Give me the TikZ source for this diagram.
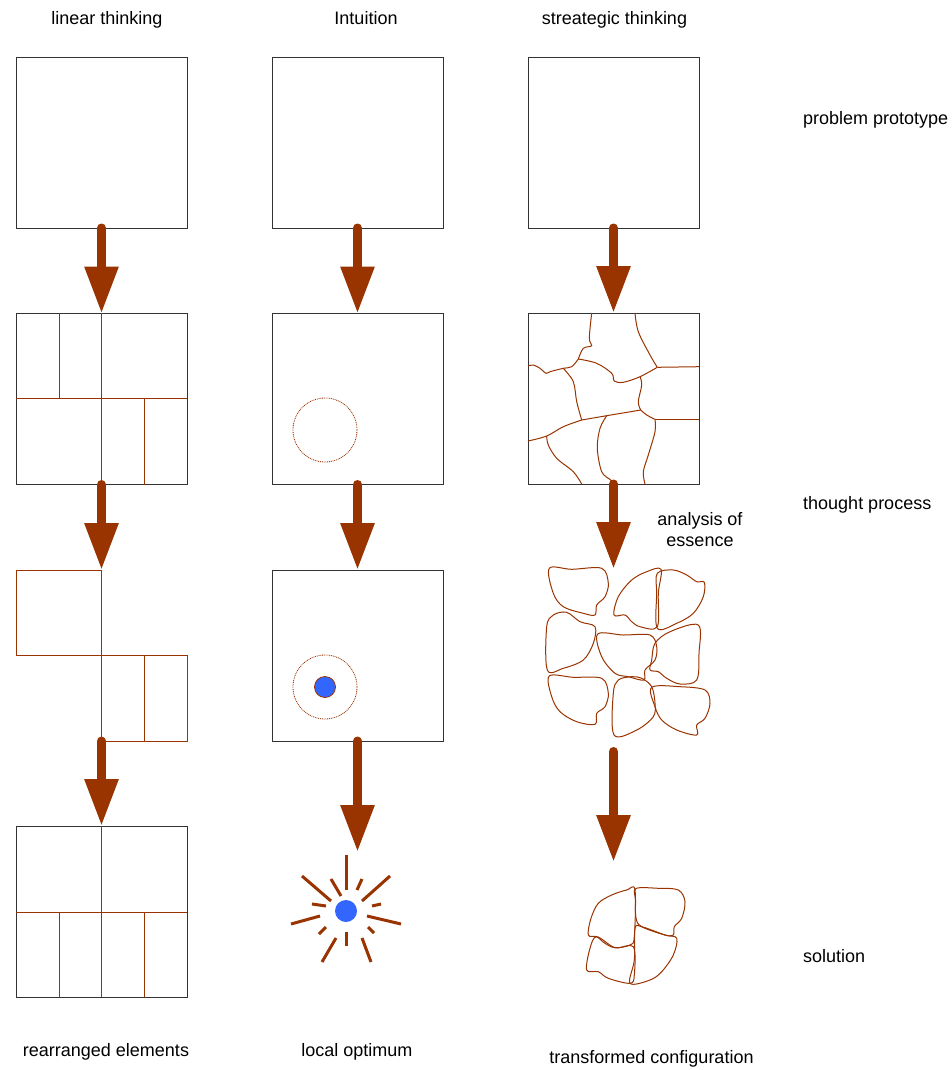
\documentclass[tikz,border=0pt]{standalone}
\usepackage{fontspec}
\setmainfont{Liberation Sans}
\usetikzlibrary{arrows.meta}
\definecolor{rust}{HTML}{993300}
\definecolor{dotblue}{HTML}{3366FF}
\definecolor{frame}{HTML}{333333}
\begin{document}
\begin{tikzpicture}[x=1pt,y=-1pt,
  panel/.style={draw=frame, line width=0.9pt, minimum width=171pt, minimum height=171pt, inner sep=0pt, outer sep=0pt},
  ghost/.style={minimum width=171pt, minimum height=171pt, inner sep=0pt, outer sep=0pt},
  flow/.style={draw=rust, line width=9pt, line cap=round, -{Triangle[length=47pt,width=32pt]}},
  seam/.style={draw=rust, line width=1pt},
  halo/.style={draw=rust, line width=0.8pt, dash pattern=on 0.9pt off 0.9pt},
  spot/.style={circle, fill=dotblue, draw=rust, line width=0.8pt, minimum size=21pt, inner sep=0pt},
  ray/.style={draw=rust, line width=3pt},
  txt/.style={font=\fontsize{18}{21}\selectfont, inner sep=0pt},
  piece/.style={draw=rust, line width=1pt, smooth cycle, tension=0.55},
  crack/.style={draw=rust, line width=1pt, smooth, tension=0.55}]
\useasboundingbox (0,0) rectangle (951,1070);

% column headings and row captions
\node[txt, anchor=base] (h1) at (107,24.5) {linear thinking};
\node[txt, anchor=base] (h2) at (366,24.5) {Intuition};
\node[txt, anchor=base] (h3) at (614.5,24.5) {streategic thinking};
\node[txt, anchor=base west] (r1) at (803,124.5) {problem prototype};
\node[txt, anchor=base west] (r2) at (803,509.5) {thought process};
\node[txt, anchor=base west] (r3) at (803,962.5) {solution};
\node[txt, anchor=base] (ae1) at (700,525.5) {analysis of};
\node[txt, anchor=base] (ae2) at (700,546.5) {essence};
\node[txt, anchor=base] (f1) at (106,1056.5) {rearranged elements};
\node[txt, anchor=base] (f2) at (357,1056.5) {local optimum};
\node[txt, anchor=base] (f3) at (651.5,1063.5) {transformed configuration};

% ---------- linear thinking ----------
\node[panel] (L1) at (101.5,142.5) {};
\node[panel] (L2) at (101.5,399) {};
\draw[seam] (101.5,313) -- (101.5,485);
\draw[seam] (16,398) -- (187,398);
\draw[seam] (59,313) -- (59,398);
\draw[seam] (144,398) -- (144,485);

\node[ghost] (L3) at (101.5,655.5) {};
\draw[seam] (16,570) rectangle (101.5,655);
\draw[seam] (101.5,655) rectangle (187,741);
\draw[seam] (144,655) -- (144,741);

\node[panel] (L4) at (101.5,911.5) {};
\draw[seam] (101.5,826) -- (101.5,997);
\draw[seam] (16,912) -- (187,912);
\draw[seam] (59,912) -- (59,997);
\draw[seam] (144,912) -- (144,997);

% ---------- intuition ----------
\node[panel] (I1) at (357.5,142.5) {};
\node[panel] (I2) at (357.5,399) {};
\draw[halo] (325,430) circle[radius=32pt];
\node[panel] (I3) at (357.5,655.5) {};
\draw[halo] (325,687) circle[radius=32pt];
\node[spot] (best) at (325,687) {};

% burst around the local optimum
\node[spot, draw=none, minimum size=22pt] (opt) at (346,911) {};
\draw[ray] (346,855) -- (346,890);
\draw[ray] (302,876) -- (331,901);
\draw[ray] (331,879) -- (341,896);
\draw[ray] (362,879) -- (357,890);
\draw[ray] (390,876) -- (362,901);
\draw[ray] (312,904) -- (326,906);
\draw[ray] (372,906) -- (381,904);
\draw[ray] (291,924) -- (320,916);
\draw[ray] (367,916) -- (401,924);
\draw[ray] (319,934) -- (326,927);
\draw[ray] (322,962) -- (336,938);
\draw[ray] (346,932) -- (346,946);
\draw[ray] (368,927) -- (374,933);
\draw[ray] (362,938) -- (371,962);

% ---------- strategic thinking ----------
\node[panel] (S1) at (613.5,142.5) {};
\node[panel] (S2) at (613.5,398.5) {};
\draw[crack] plot coordinates {(591.7,313) (589.3,338.3) (591.7,345.7) (583.3,348.3) (578.3,359)};
\draw[crack] plot coordinates {(635,313) (638.3,331.7) (650,355) (657.3,367.3)};
\draw[seam] (657.3,367.3) -- (699,366.7);
\draw[crack] plot coordinates {(578.3,359) (596.7,363.3) (611.7,373.3) (614.3,381) (623.3,382.3) (640,376.7) (657.3,367.3)};
\draw[crack] plot coordinates {(528,366) (533.3,365) (540,368.3) (546,373.3) (550,371.7) (563.3,368.3) (571.7,366.7) (578.3,359)};
\draw[crack] plot coordinates {(563.3,368.3) (573.3,381.7) (576.7,401.7) (581.7,420)};
\draw[crack] plot coordinates {(640,376.7) (641.7,385) (638.3,401.7) (640.7,410)};
\draw[seam] (581.7,420) -- (606.7,415.7) -- (640.7,410);
\draw[crack] plot coordinates {(640.7,410) (646.7,415) (655,419.3)};
\draw[seam] (655,419.3) -- (699,419.3);
\draw[crack] plot coordinates {(655,419.3) (655,431.7) (648.3,455) (643.3,471.7) (645,484)};
\draw[crack] plot coordinates {(606.7,415.7) (600,428.3) (597.3,448.3) (601.7,471.7) (610.7,480) (614,484)};
\draw[crack] plot coordinates {(581.7,420) (563.3,426.7) (546.7,436) (528,441)};
\draw[crack] plot coordinates {(546.7,436) (548.3,445) (556.7,458.3) (573.3,471.7) (581.7,484)};

% separated fragments
\coordinate (heap) at (613.5,569);
\draw[piece] plot coordinates {(549.3,568.3) (571.7,569.3) (601.7,568.3) (608.3,583.3) (605,596.7) (596.7,605) (595,615) (583.3,613.3) (563.3,606.7) (553.3,593.3)};
\draw[piece] plot coordinates {(614,615) (618.3,596.7) (631.7,580) (646.7,571.7) (661,569.3) (658.3,593.3) (657.3,626.7) (640,626.7) (631.7,621.7) (625,615)};
\draw[piece] plot coordinates {(657.3,573.3) (673.3,570) (686.7,575) (696.7,581.7) (704.3,582.3) (703.3,596.7) (693.3,613.3) (676.7,623.3) (657.3,628.3) (656.7,593.3)};
\draw[piece] plot coordinates {(547.3,670) (546.7,626.7) (553.3,615) (566.7,612.3) (580,621.7) (595,626.7) (593.3,643.3) (583.3,660) (563.3,668.3)};
\draw[piece] plot coordinates {(597.7,634) (623.3,635) (650,635) (656.7,646.7) (655,660) (645,670) (644,680) (628.3,676.7) (615,673.3) (601.7,656.7)};
\draw[piece] plot coordinates {(655,643.3) (670,631.7) (698.3,625) (699,653.3) (696.7,680) (680,684) (666.7,678.3) (658.3,671.7) (650,670) (651.7,660)};
\draw[piece] plot coordinates {(549.3,676) (573.3,677.3) (601.7,678.3) (608.3,693.3) (605,706.7) (596.7,713.3) (595,724.3) (576.7,721.7) (560,711.7) (551.7,696.7)};
\draw[piece] plot coordinates {(614,735) (613.3,693.3) (618.3,680) (631.7,676.7) (641.7,678.3) (651.7,686.7) (655,703.3) (653.3,716.7) (636.7,730)};
\draw[piece] plot coordinates {(651.7,687.3) (680,686.7) (705,690) (710,703.3) (705,718.3) (696.7,725) (696.7,735) (676.7,730) (661.7,720) (655,706.7)};

% reassembled configuration
\coordinate (heapFoot) at (613.5,751.5);
\coordinate (fit) at (613.5,862);
\draw[piece] plot coordinates {(635,890) (626.7,890) (611.7,895) (598.3,903.3) (591,918.3) (588.3,935) (596.7,936.7) (605,943.3) (615,947.7) (630,945) (634.3,936.7)};
\draw[piece] plot coordinates {(636,888.5) (658.3,888.3) (678.3,890) (685,901.7) (681.7,918.3) (674.3,926.7) (673.3,935) (665,935) (641.7,926.7) (636,918) (635.5,900)};
\draw[piece] plot coordinates {(596.7,936.7) (590,948.3) (586.7,970) (598.3,971.7) (608.3,978.3) (630,983.3) (634.3,975) (633.3,946.7) (615,947.7)};
\draw[piece] plot coordinates {(635,928.3) (641.7,926.7) (665,935) (676.7,938.3) (673.3,955) (661.7,971.7) (650,980) (630,983.3) (634.3,960)};

% ---------- flow arrows ----------
\draw[flow] (L1.south) -- (L2.north);
\draw[flow] (L2.south) -- (L3.north);
\draw[flow] (L3.south) -- (L4.north);
\coordinate (burstTop) at (357.5,852);
\draw[flow] (I1.south) -- (I2.north);
\draw[flow] (I2.south) -- (I3.north);
\draw[flow] (I3.south) -- (burstTop);
\draw[flow] (S1.south) -- (S2.north);
\draw[flow] (S2.south) -- (heap);
\draw[flow] (heapFoot) -- (fit);
\end{tikzpicture}
\end{document}
